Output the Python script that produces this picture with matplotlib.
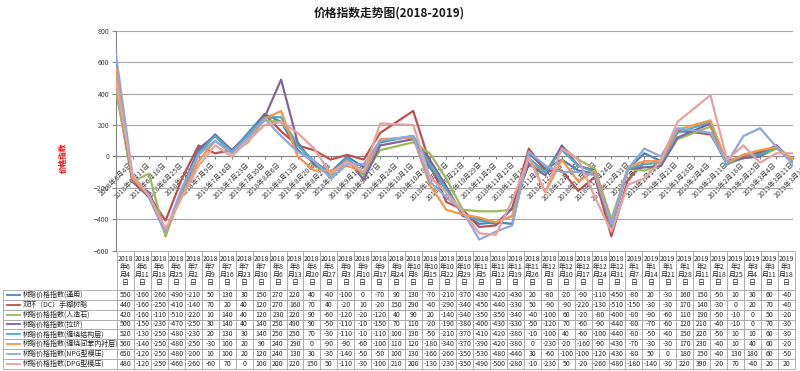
import pandas as pd
import matplotlib
matplotlib.use("Agg")
import matplotlib.pyplot as plt

plt.rcParams["font.family"] = ["Noto Sans CJK SC", "DejaVu Sans"]

# ---------------------------------------------------------------------------
# Data (weekly price index)
# ---------------------------------------------------------------------------
dates = [
    "2018-06-04", "2018-06-11", "2018-06-18", "2018-06-25", "2018-07-02",
    "2018-07-09", "2018-07-16", "2018-07-23", "2018-07-30", "2018-08-06",
    "2018-08-13", "2018-08-20", "2018-08-27", "2018-09-03", "2018-09-10",
    "2018-09-17", "2018-09-24", "2018-10-08", "2018-10-15", "2018-10-22",
    "2018-10-29", "2018-11-05", "2018-11-12", "2018-11-19", "2018-11-26",
    "2018-12-03", "2018-12-10", "2018-12-17", "2018-12-24", "2018-12-31",
    "2019-01-07", "2019-01-14", "2019-01-21", "2019-01-28", "2019-02-11",
    "2019-02-18", "2019-02-25", "2019-03-04", "2019-03-11", "2019-03-18",
]

series_names = [
    "树脂价格指数(通用)",
    "双环（DC）手糊树脂",
    "树脂价格指数(人造石)",
    "树脂价格指数(拉挤)",
    "树脂价格指数(缠绕结构层)",
    "树脂价格指数(缠绕间苯内衬层)",
    "树脂价格指数(NPG型模压)",
    "树脂价格指数(DPG型模压)",
]

general = [550, -160, -260, -490, -210, 50, 130, 30, 150, 270, 220, 40, -40, -100,
           0, -70, 90, 130, -70, -210, -370, -430, -420, -430, 20, -80, -20, -90,
           -110, -450, -80, 20, -30, 160, 150, -50, 10, 30, 60, -40]
dc_resin = [440, -160, -250, -410, -140, 70, 20, 40, 120, 270, 160, 70, 40, -20,
            10, -20, 150, 290, -40, -290, -340, -450, -440, -330, 50, -90, -90, -220,
            -130, -510, -150, -30, -30, 170, 140, -30, 0, 20, 70, -40]
artificial_stone = [420, -160, -110, -510, -220, 10, 140, 40, 120, 230, 220, 90, -60, -120,
                    -20, -120, 40, 90, 20, -140, -340, -350, -350, -340, -40, -100, 60, -20,
                    -80, -400, -80, -90, -60, 110, 190, -50, -10, 0, 50, -20]
pultrusion = [500, -150, -230, -470, -250, 30, 140, 40, 140, 250, 490, 90, -50, -110,
              -10, -150, 70, 110, -20, -190, -380, -400, -430, -330, -50, -120, 70, -60,
              -90, -440, -80, -70, -60, 120, 210, -40, -10, 0, 70, -30]
winding_struct = [520, -130, -250, -480, -230, 20, 130, 30, 140, 250, 250, 70, -30, -110,
                  -10, -110, 100, 130, -50, -210, -370, -410, -420, -380, -10, -100, 40, -60,
                  -100, -440, -80, -50, -40, 150, 220, -50, 10, 10, 60, -30]
winding_liner = [560, -140, -250, -480, -250, -30, 100, 20, 90, 240, 290, 0, -90, -90,
                 -60, -100, 110, 120, -180, -340, -370, -390, -420, -380, 0, -230, -20, -160,
                 -90, -430, -70, -30, -30, 170, 230, -40, 10, 40, 60, -20]
npg_mould = [650, -120, -250, -480, -200, 10, 100, 20, 120, 240, 130, 30, -30, -140,
             -50, -50, 100, 130, -160, -260, -350, -530, -480, -440, 30, -60, -100, -100,
             -120, -430, -80, 50, 0, 180, 150, -40, 130, 180, 60, -50]
dpg_mould = [480, -120, -250, -460, -260, -60, 70, 0, 100, 200, 220, 150, 50, -110,
             -30, -100, 210, 200, -130, -230, -350, -490, -500, -280, -10, -230, 50, -20,
             -260, -480, -180, -140, -30, 220, 390, -20, 70, -40, 20, 20]

all_series = [general, dc_resin, artificial_stone, pultrusion,
              winding_struct, winding_liner, npg_mould, dpg_mould]

colors = ["#4F81BD", "#C0504D", "#9BBB59", "#8064A2",
          "#4BACC6", "#F79646", "#8EA9DB", "#E8A0A0"]

# ---------------------------------------------------------------------------
# Figure
# ---------------------------------------------------------------------------
W, H = 800, 371
fig = plt.figure(figsize=(W / 100, H / 100), dpi=100)

x = pd.to_datetime(dates)
ax = fig.add_axes([116 / W, 1 - 250.5 / H, (793 - 116) / W, (250.5 - 31) / H])

for vals, col in zip(all_series, colors):
    ax.plot(x, vals, color=col, lw=1.6, zorder=3)

ax.set_xlim(x[0], x[-1])
ax.set_ylim(-600, 800)
ax.set_yticks(range(-600, 801, 200))

# weekly date axis (Excel-style), labels hang below the 0 line
week_ticks = pd.date_range(x[0], x[-1], freq="7D")
ax.set_xticks(week_ticks)
ax.set_xticklabels([f"{d.year}年{d.month}月{d.day}日" for d in week_ticks])
ax.tick_params(axis="x", length=2, color="#868686", pad=1,
               labelsize=5, labelcolor="#404040", labelrotation=45)
for lbl in ax.get_xticklabels():
    lbl.set_ha("right")
    lbl.set_va("top")
    lbl.set_rotation_mode("anchor")
ax.tick_params(axis="y", labelsize=5, labelcolor="#404040", length=3, color="#868686", pad=2)

ax.grid(axis="y", color="#A6A6A6", lw=0.8)
ax.set_axisbelow(True)
for side in ("top", "right"):
    ax.spines[side].set_visible(False)
ax.spines["left"].set_color("#868686")
ax.spines["bottom"].set_color("#868686")
ax.spines["bottom"].set_position(("data", 0))

fig.text(389 / W, 1 - 13 / H, "价格指数走势图(2018-2019)", ha="center", va="center",
         fontsize=8.5, fontweight="bold", color="#1a1a1a")
fig.text(63 / W, 1 - 158 / H, "价格指数", rotation=90, ha="center", va="center",
         fontsize=5.5, color="red", fontweight="bold")

# ---------------------------------------------------------------------------
# Data table with legend keys
# ---------------------------------------------------------------------------
tax = fig.add_axes([3 / W, 1 - 368.5 / H, 792 / W, 117.5 / H])
tax.axis("off")

headers = [""] + [f"{d.year}\n年{d.month}\n月{d.day}\n日" for d in x]
cell_text = [[name] + [str(v) for v in vals] for name, vals in zip(series_names, all_series)]
label_w = 114
col_w = (792 - label_w) / len(dates)
widths = [label_w / 792] + [col_w / 792] * len(dates)

tbl = tax.table(cellText=cell_text, colLabels=headers, colWidths=widths,
                cellLoc="center", bbox=[0, 0, 1, 1])
tbl.auto_set_font_size(False)
tbl.set_fontsize(5)

n_units = 4 + len(series_names)
for (r, c), cell in tbl.get_celld().items():
    cell.set_edgecolor("#A6A6A6")
    cell.set_linewidth(0.6)
    cell.get_text().set_color("#262626")
    cell.set_height((4 if r == 0 else 1) / n_units)
    if r == 0:
        cell.get_text().set_linespacing(1.0)
        if c == 0:
            cell.visible_edges = ""
    if c == 0 and r > 0:
        cell._loc = "left"
        cell.PAD = 20 / label_w
        cell.get_text().set_ha("left")

for i, col in enumerate(colors):
    yk = 1 - (4 + i + 0.5) / n_units
    tax.plot([4 / 792, 17 / 792], [yk, yk], color=col, lw=1.3,
             transform=tax.transAxes, clip_on=False, zorder=5)

fig.savefig("out.png", dpi=100)
